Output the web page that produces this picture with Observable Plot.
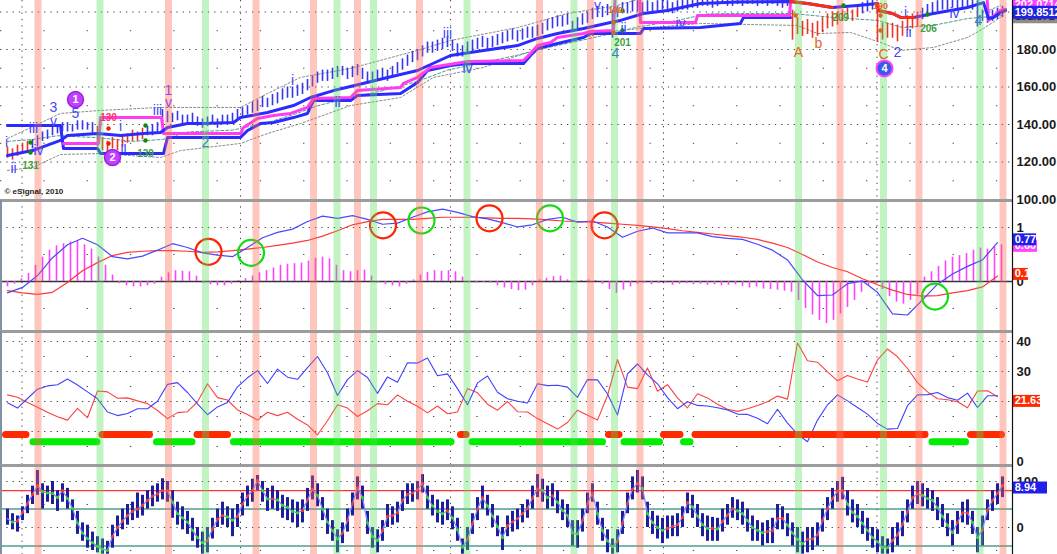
<!DOCTYPE html>
<html>
<head>
<meta charset="utf-8">
<script src="https://cdn.jsdelivr.net/npm/d3@7"></script>
<script src="https://cdn.jsdelivr.net/npm/@observablehq/plot@0.6"></script>
<style>
html,body{margin:0;padding:0;background:#fff;}
#chart{position:relative;width:1057px;height:554px;overflow:hidden;background:#fff;}
#chart > svg{position:absolute;left:0;display:block;}
</style>
</head>
<body>
<div id="chart"></div>
<script>
// ---------------- DATA (bar index i = trading day, 0..199) ----------------
const priceLow = [122,121,123,124,126,127,128,131,132,134,135,136,136,136,137,137,137,135,128,126,
125,127,126,128,130,131,131,132,134,134,135,139,141,141,142,140,140,141,139,138,
139,140,138,140,140,141,142,144,145,146,147,149,149,150,151,153,154,154,155,156,
158,160,162,163,163,164,165,166,164,165,166,164,162,162,163,164,163,165,167,169,
171,173,174,176,178,178,179,180,181,179,176,176,178,179,180,181,180,181,182,183,
184,185,184,185,186,186,187,188,190,191,192,192,193,189,191,193,194,196,197,197,
198,186,197,199,199,200,200,199,200,199,200,201,200,199,200,201,201,202,202,203,
203,202,203,204,203,203,204,203,204,204,203,204,203,204,203,202,203,185,188,187,
188,186,187,189,191,192,193,195,196,195,197,199,200,201,184,185,186,186,184,187,
190,191,192,196,198,199,200,201,201,202,201,202,202,201,192,195,194,195,196,197];
const priceHigh = [128,127,129,130,131,132,134,136,137,139,140,141,141,140,142,142,141,141,139,133,
131,133,132,134,135,137,136,138,139,140,141,148,147,146,147,145,145,146,144,143,
144,145,143,145,145,146,148,149,150,152,153,155,154,156,157,159,160,160,161,162,
164,166,168,169,169,170,171,171,170,171,172,170,168,168,169,170,169,171,173,175,
177,179,180,182,184,184,185,186,187,185,183,182,184,185,186,187,186,187,188,189,
190,191,190,191,192,192,193,194,196,197,198,198,199,195,197,199,200,202,203,203,
204,201,203,205,205,206,206,205,206,205,206,207,206,205,206,207,207,208,208,209,
209,208,209,210,209,209,210,209,210,210,209,210,209,210,209,208,209,201,197,195,
196,194,195,197,199,200,200,201,202,201,203,205,206,207,200,194,194,194,193,195,
198,199,200,202,204,205,206,207,207,208,207,208,208,207,206,201,200,201,202,203];
const redBarSpans = [[0,4],[18,27],[157,170],[174,182]];

// [bar index, price]
const maLine = [[0,123.5],[5,126.1],[10.6,131.5],[12,134.1],[18,135.2],[22.6,134.1],[27.2,135.2],[30.6,135.7],[32,138.4],[36,140.5],[39.2,140.5],[45.2,141.1],[46.6,143.7],[52,146.4],[57.2,150.1],[60.6,154.4],[65.2,158.1],[68.6,160.3],[75.2,164.5],[82,168.8],[88.6,176.8],[95.2,179.5],[102,182.1],[106,185.9],[110,188.5],[115.2,191.2],[120.6,194.4],[122.6,195.5],[127.2,199.2],[132,200.8],[138.6,204.5],[146,205.3],[156.6,205.6],[157,205.5],[160,204.5],[165,202.4],[170,203.5],[174,204.5],[174.1,200.8],[177,199.2],[178.6,197.1],[181.2,197.1],[185.2,199.2],[192,202.4],[195.2,205],[196.2,196.5],[197.2,197.1],[198.6,199.7],[199.6,200.8]];
const maRedSpans = [[156.6,166],[174,181.2]];
const magentaStop = [[11.2,129.9],[18.2,129.9],[18.6,143.7],[30.8,143.7],[31.2,135.2],[46.6,135.2],[47.2,138.4],[50,143.2],[53.2,144.8],[56.6,145.9],[60,149.1],[61.2,153.9],[68.6,154.4],[70,158.1],[78.6,159.7],[79.2,161.9],[82,165.1],[84.6,170.4],[92,173.6],[103.2,174.1],[104.6,177.9],[106,182.1],[108.6,183.7],[110,186.4],[115.2,188.5],[116.6,189.6],[121.2,190.1],[121.6,212],[126.4,212],[126.6,194.4],[137.6,194.4],[138,198.1],[156.4,198.1],[156.8,212],[195.8,212],[196.2,195.5],[198.6,200.8],[199.6,201.5]];
const lowerStop = [[0,139.5],[10.6,139.5],[11.2,127.2],[18,127.2],[18.6,124.5],[31.2,124.5],[32,133.1],[46.6,133.1],[48,136.8],[50.6,140.5],[53.2,141.1],[57.2,143.7],[60,145.9],[61.2,152.8],[68.6,152.8],[70,155.5],[78.6,156.5],[82,162.4],[84,168.8],[88.6,171.5],[92,172.5],[103.2,172.5],[104.6,176.8],[106,180.5],[110,183.2],[115.2,186.4],[116.6,188.5],[126.6,188.5],[127.2,191.2],[138.6,191.7],[146.6,193.9],[147.2,197.1],[156.6,197.1]];
const upperEnvelope = [[0,132.5],[10.6,145.9],[18.6,147.5],[30.6,149.1],[46.6,149.1],[52,156.5],[58.6,165.1],[68.6,169.9],[82,179.5],[88.6,184.8],[102,191.7],[112,199.2],[122,203.5],[128.6,208.8],[140,212],[190,212],[194,206.5],[196.2,200.8],[198.6,203.5]];
const midEnvelope = [[0,131],[5,132],[10,134],[18,133],[25,131],[31,132],[36,136],[45,137],[52,141],[58,146],[62,150],[68,154],[75,158],[82,163],[88,169],[95,173],[102,177],[108,181],[115,185],[120,188],[126,192],[133,195],[140,199],[146,199.2],[157,199.2],[165,197.1],[174,195.5],[179,191.7],[185,192.8],[192,196.5],[199,198.1]];
const lowerEnvelope = [[0,115.5],[5,117.1],[10.6,124],[18.6,124.5],[30.6,122.4],[34.6,126.1],[46.6,129.9],[52,135.2],[58.6,140.5],[68.6,150.1],[78.6,154.4],[85.2,165.1],[95.2,170.4],[105.2,179.5],[112,184.8],[122,190.1],[138.6,193.9],[158,192.8],[162,188.5],[168.6,189.1],[175.2,183.2],[178.6,179.5],[185.2,181.1],[192,186.4],[195.2,191.2],[198.6,197.1]];

// signal bands (bar index)
const bandsGreen = [18.5,39.6,65.9,73.2,91.9,113.3,121.4,158.2,175.2,194.5];
const bandsRed = [6.1,32.2,49.7,61.2,70,82.4,106.4,116.6,126.5,166.5,182.3,199.1];
const timeGrid = [2.9,46.6,88.6,131.2,173.9];

// wave labels [bar index, price, text]
const labelsBlue = [[-0.2,130.4,"i"],[1.2,116.5,"ii"],[5.2,137.9,"iii"],[6.2,126.1,"iv"],[9.2,148.8,"3"],[9.2,141.4,"v"],[13.6,145.9,"5"],[22.6,138.9,"i"],[23.2,127.7,"ii"],[30,147.5,"iii"],[57,163.5,"i"],[66,151.7,"ii"],[88,188.5,"iii"],[92,169.9,"iv"],[118,203.2,"v"],[123.2,191.2,"ii"],[134.6,193.9,"iv"],[178,178.4,"2"],[179.6,199.7,"i"],[180.2,189.1,"ii"],[189.4,199.2,"iv"]];
const labelsTeal = [[39.6,130.4,"2"],[121.6,177.9,"4"],[194.2,195.5,"4"]];
const labelsPurple = [[32.2,158.2,"1"],[32.2,151.6,"v"]];
const labelsOrange = [[158.2,178.4,"A"],[162.2,183.2,"b"],[175.2,177.3,"C"]];
const labelsOrangeSmall = [[121.6,200.8,"190"],[174.6,203.2,"190"]];
const labelsGreen = [[4.6,118.1,"131"],[27.6,124.5,"139"],[123,183.7,"201"],[166.6,197.1,"209"],[184.2,191.2,"206"]];
const labelsPink = [[20.2,143.7,"130"]];
const circledPurple = [[13.6,153.3,"1"],[21,122.4,"2"]];
const circledBlue = [[175.4,169.9,"4"]];
const dotsGreen = [[4.6,130.4],[4.6,125.1],[27.6,139.5],[27.6,131.5],[123,200.8],[123,190.1],[167.2,203.5],[184,198.7]];
const dotsRed = [[20.2,137.9],[20.2,129.9]];
const dotsOrange = [[121.2,194.4],[121.2,189.1],[157.6,198.1],[174.6,198.1],[174.6,190.1]];

// MACD (every 3 bars), histogram (every 1.4 bars)
const macdLine = [-0.21,-0.11,0.11,0.44,0.68,0.80,0.68,0.46,0.42,0.47,
0.58,0.70,0.63,0.53,0.49,0.46,0.63,0.81,0.91,0.97,
1.11,1.21,1.17,1.22,1.15,1.06,1.08,1.19,1.29,1.34,
1.28,1.20,1.16,1.09,1.01,1.05,1.15,1.19,1.10,1.12,
1.01,0.82,0.93,0.99,0.90,0.90,0.90,0.83,0.80,0.78,
0.69,0.58,0.40,0.03,-0.26,-0.25,-0.04,0.01,-0.20,-0.60,
-0.62,-0.34,-0.05,0.14,0.28,0.40,0.72];
const macdSignal = [-0.17,-0.21,-0.24,-0.2,-0.02,0.2,0.35,0.48,0.54,0.56,
0.57,0.57,0.56,0.54,0.55,0.57,0.6,0.63,0.67,0.71,
0.76,0.84,0.94,1.05,1.11,1.15,1.15,1.15,1.17,1.19,
1.19,1.19,1.18,1.17,1.17,1.16,1.14,1.12,1.11,1.1,
1.08,1.06,1.04,1.01,0.98,0.94,0.91,0.88,0.85,0.82,
0.78,0.71,0.63,0.5,0.36,0.26,0.18,0.05,-0.06,-0.16,
-0.24,-0.27,-0.26,-0.21,-0.17,-0.1,0.1];
const macdHist = [-0.1,-0.05,0.05,0.15,0.3,0.45,0.58,0.66,0.7,0.73,
0.75,0.68,0.6,0.45,0.3,0.12,-0.04,-0.08,-0.1,-0.1,
-0.08,-0.05,0.08,0.16,0.2,0.19,0.18,0.1,-0.04,-0.06,
-0.08,-0.08,-0.05,0.02,0.05,0.1,0.16,0.2,0.25,0.3,
0.32,0.33,0.34,0.38,0.43,0.45,0.42,0.3,0.2,0.18,
0.2,0.21,0.1,-0.03,-0.06,-0.08,-0.1,-0.05,0.03,0.12,
0.17,0.2,0.19,0.2,0.18,0.08,-0.02,-0.03,-0.02,-0.03,
-0.08,-0.12,-0.15,-0.17,-0.16,-0.08,0.03,0.06,0.09,0.1,
0.03,-0.02,0.02,0.03,0.02,-0.05,-0.15,-0.22,-0.16,-0.1,
-0.05,-0.03,-0.06,-0.04,-0.03,-0.07,-0.05,-0.04,-0.06,-0.05,
-0.07,-0.06,-0.08,-0.07,-0.06,-0.09,-0.12,-0.1,-0.14,-0.15,
-0.16,-0.18,-0.2,-0.35,-0.5,-0.62,-0.72,-0.78,-0.72,-0.6,
-0.48,-0.35,-0.2,-0.08,-0.05,-0.15,-0.28,-0.38,-0.42,-0.35,
-0.25,0.08,0.18,0.28,0.38,0.45,0.48,0.52,0.58,0.62,
0.6,0.64,0.68];
const crossDown = [[40.2,0.55],[75.1,1.04],[96.4,1.17],[119.4,1.04]];
const crossUp = [[48.7,0.53],[82.8,1.13],[108.5,1.17],[185.5,-0.28]];

// DMI (every 2 bars)
const diPlus = [19.6,17.8,21,24.1,25.2,25.6,27.5,25.5,23.2,20.9,
16.5,15.3,16,17.6,17.6,20.1,25.7,26.3,23,19.2,
15.6,18.2,19.7,24.9,27.9,30.3,26,30.8,28.1,27.4,
31.3,35,29.6,22,27.3,30.3,28,22.7,28.2,26.4,
32.9,32.8,34.5,28.6,29.2,24.3,18.9,26.2,28.5,23.1,
20.9,20.1,19.5,25.9,25.3,25.4,24.8,21.4,27.3,27.2,
22.5,15.5,29.2,32.5,28.9,25.9,21.3,17.6,19.9,18.7,
18.5,17.9,17.2,15.8,15.7,14.4,12.6,17.4,12.8,9.1,
6.6,13.8,18.9,22.2,20.2,18,15.8,12.7,10.8,11,
18.6,22.2,22.3,23,21.3,20.4,22.8,18,21.9,21.9];
const diMinus = [22.2,21.4,19.7,18.1,16.4,14.9,13.8,17.7,14.6,23.5,
23.2,21.1,21.2,20.2,19.3,17,14.3,16.3,16.6,19.9,
25.9,21.3,20.5,17.2,15.7,13.8,16.4,15.3,16.4,14.1,
12.2,8.9,13.6,18.9,17.8,15,16.9,19.3,18.9,22.2,
20.1,18.4,16.2,18.5,15.9,16.5,24.3,22.9,19.1,17.1,
20,16.6,16.5,14.3,12.6,10.8,13,17.1,15.4,13.8,
22,34,24.8,24.3,31.2,23.4,25.6,21.2,17.9,22.6,
21.2,19.1,17.4,16.7,17.6,18.7,19.9,21.8,20.8,39.5,
33.6,33.1,29.9,26.9,28.7,27.5,26.5,33.9,37.5,34.9,
31,26.3,23.2,20.9,20.6,19.9,17.9,23.5,23.6,21.6];
const trendRed = [[-0.3,3.8],[19,28.5],[38,44.1],[90.7,91.8],[120.3,122.4],[131.3,134.6],[137.6,183.6],[192.7,198.9]];
const trendGreen = [[5.2,18],[29.9,37],[45.3,88.8],[93,119.1],[123.4,130.5],[135.3,136.6],[185,191.7]];

// Oscillator (every bar)
const stochLine = [19,12,14,33,52,72,91,78,75,74,65,80,63,41,10,-12,-24,-33,-41,-47,-50,-19,0,14,26,35,40,48,59,68,73,80,80,55,30,
21,
12,-6,-22,-33,-29,-3,18,26,23,16,24,51,68,80,102,80,62,62,60,48,44,35,32,37,60,83,70,40,12,-7,-25,-12,15,52,87,65,10,-20,-28,-7,24,26,32,59,72,75,82,96,65,47,35,30,36,21,-5,-43,-26,8,40,65,47,25,2,-22,4,12,19,30,41,
64,84,81,65,69,55,37,26,-12,-14,15,52,74,30,-7,-29,-42,-30,9,52,83,96,85,30,11,0,-6,-2,2,6,22,54,45,25,6,-2,
-2,
-3,13,27,41,36,30,15,0,-6,-11,-9,-7,19,20,5,-12,-26,-35,-26,-25,-16,15,41,63,79,80,51,33,24,9,-6,-22,-31,-43,-44,-28,-16,7,34,65,73,70,63,59,43,24,5,-11,11,32,32,11,-22,-5,38,59,74,91];
const stochLow = [5,-5,-10,15,30,50,70,40,55,50,35,55,40,15,-15,-30,-45,-50,-55,-58,-58,-45,-20,-5,5,15,20,25,40,45,55,60,55,20,5,
-5,
-15,-30,-45,-58,-55,-25,0,5,0,-20,0,25,45,55,80,55,35,40,35,20,15,10,0,10,35,60,45,15,-15,-30,-55,-35,-10,25,60,40,-15,-45,-55,-30,0,5,10,35,50,55,60,75,40,25,10,5,15,-5,-30,-58,-50,-15,15,40,25,0,-20,-50,-20,-10,-5,10,20,
40,65,55,40,45,30,15,0,-40,-45,-10,30,55,5,-30,-55,-58,-55,-15,30,60,75,60,0,-15,-25,-35,-25,-20,-20,0,30,20,0,-20,-30,
-30,
-30,-10,5,20,15,5,-10,-30,-30,-40,-35,-35,-5,-5,-20,-40,-55,-58,-55,-50,-40,-10,15,40,55,60,25,10,0,-15,-30,-45,-55,-58,-58,-55,-40,-20,10,40,50,45,40,35,15,0,-20,-40,-15,10,5,-15,-55,-40,15,35,50,65];
const stochHigh = [40,30,25,45,70,90,124,95,90,100,80,95,85,60,35,10,5,-10,-20,-25,-30,5,25,40,50,55,75,70,80,90,95,106,100,80,55,
45,
35,20,0,-10,0,20,40,55,45,40,50,75,90,105,113,100,85,90,80,70,65,60,55,60,85,112,95,65,40,15,-5,10,40,75,110,90,35,0,-5,15,50,45,55,80,95,95,100,115,90,70,60,55,60,45,20,-25,0,30,65,90,70,50,25,0,25,35,40,50,60,
90,115,105,90,95,80,60,50,15,15,40,75,95,55,20,-5,-25,-5,35,75,110,124,110,55,35,25,20,25,25,30,45,75,70,50,30,25,
22,
20,40,50,65,60,55,40,25,15,10,15,20,50,45,30,10,0,-10,0,0,10,40,65,85,100,109,80,60,50,35,20,0,-5,-20,-25,0,10,35,60,90,100,95,85,80,65,50,30,15,35,55,60,35,0,25,60,80,95,110];

// ---------------- RENDERING ----------------
const FONT = "Arial, 'Liberation Sans', sans-serif";
const X_DOMAIN = [-1.4, 201];
const P = d => d[0], V = d => d[1], T = d => d[2];

function bandMarks() {
  return [
    Plot.ruleX(bandsGreen, {stroke: "#55dd55", strokeOpacity: 0.36, strokeWidth: 7}),
    Plot.ruleX(bandsRed, {stroke: "#ff6a55", strokeOpacity: 0.38, strokeWidth: 7})
  ];
}
function gridMarks(major, minor) {
  return [
    Plot.ruleX(timeGrid, {stroke: "#444", strokeDasharray: "1.3,5", strokeWidth: 1}),
    Plot.ruleY(major, {stroke: "#444", strokeDasharray: "1.3,5", strokeWidth: 1}),
    Plot.ruleY(minor, {stroke: "#444", strokeDasharray: "1.3,42", strokeWidth: 1})
  ];
}
function tag(value, label, bg, x2, fg = "#fff", h = 12) {
  return [
    Plot.ruleY([value], {x1: 201.15, x2, stroke: bg, strokeWidth: h}),
    Plot.text([value], {x: 201.45, y: d => d, text: () => label, textAnchor: "start", fill: fg, fontSize: 11, fontWeight: "bold"})
  ];
}
function panel(top, height, yDomain, ticks, fmt, marks, sep) {
  const svg = Plot.plot({
    width: 1057, height,
    marginLeft: 0, marginRight: 45, marginTop: 0, marginBottom: 0,
    x: {domain: X_DOMAIN, axis: null},
    y: {domain: yDomain, axis: "right", ticks, tickFormat: fmt, tickSize: 0, tickPadding: 4, label: null},
    style: {background: "transparent", overflow: "visible", fontFamily: FONT, fontSize: "13px", fontWeight: "bold", color: "#1a1a1a"},
    marks: [
      ...marks,
      sep ? Plot.ruleY([yDomain[1]], {stroke: "#9c9c9c", strokeWidth: 3}) : null,
      sep ? Plot.ruleX([X_DOMAIN[0]], {stroke: "#8191a3", strokeWidth: 3}) : null,
      Plot.ruleX([X_DOMAIN[1]], {stroke: "#111", strokeWidth: 1.2})
    ]
  });
  svg.style.top = top + "px";
  document.getElementById("chart").appendChild(svg);
}

// ---- price panel ----
const priceBars = priceLow.map((lo, i) => ({i, lo, hi: priceHigh[i]}));
const isRedBar = i => redBarSpans.some(([a, b]) => i >= a && i <= b);
const txt = (data, fill, size, weight = "normal") =>
  Plot.text(data, {x: P, y: V, text: T, fill, fontSize: size, fontWeight: weight, fontFamily: FONT});

panel(0, 200, [99.47, 206.13], [180, 160, 140, 120, 100], d3.format(".2f"), [
  ...gridMarks([200, 180, 160, 140, 120], [190, 170, 150, 130, 110]),
  Plot.line(upperEnvelope, {x: P, y: V, stroke: "#8a8a8a", strokeDasharray: "2,2", strokeWidth: 1, clip: true}),
  Plot.line(lowerEnvelope, {x: P, y: V, stroke: "#8a8a8a", strokeDasharray: "2,2", strokeWidth: 1, clip: true}),
  Plot.line(midEnvelope, {x: P, y: V, stroke: "#4e9d90", strokeDasharray: "3,2", strokeWidth: 1, clip: true}),
  Plot.ruleX(priceBars, {x: "i", y1: "lo", y2: "hi", stroke: d => isRedBar(d.i) ? "#ee3322" : "#3636f0", strokeWidth: 1.6, clip: true}),
  Plot.line(lowerStop, {x: P, y: V, stroke: "#2b2bff", strokeWidth: 3, clip: true}),
  Plot.line(magentaStop, {x: P, y: V, stroke: "#ff3cf0", strokeWidth: 3, clip: true}),
  Plot.line(maLine, {x: P, y: V, stroke: "#2b2bff", strokeWidth: 3, clip: true}),
  ...maRedSpans.map(([a, b]) => Plot.line(maLine.filter(d => d[0] >= a && d[0] <= b), {x: P, y: V, stroke: "#ff2a10", strokeWidth: 3, clip: true})),
  ...bandMarks(),
  Plot.dot(dotsGreen, {x: P, y: V, r: 2.2, fill: "#118811"}),
  Plot.dot(dotsRed, {x: P, y: V, r: 2.2, fill: "#ee2200"}),
  Plot.dot(dotsOrange, {x: P, y: V, r: 2.2, fill: "#dd6622"}),
  txt(labelsBlue, "#4646ff", 14),
  txt(labelsTeal, "#3a7fc0", 14),
  txt(labelsPurple, "#a040e0", 14),
  txt(labelsOrange, "#e8641e", 14),
  txt(labelsOrangeSmall, "#e8641e", 9, "bold"),
  txt(labelsGreen, "#3f9f3f", 10, "bold"),
  txt(labelsPink, "#ff3366", 10, "bold"),
  Plot.dot(circledPurple, {x: P, y: V, r: 8, fill: "#c040ff", stroke: "#a020e0"}),
  txt(circledPurple, "#fff", 11, "bold"),
  Plot.dot(circledBlue, {x: P, y: V, r: 8, fill: "#3a5ae8", stroke: "#ff40ff", strokeWidth: 2}),
  txt(circledBlue, "#fff", 11, "bold"),
  Plot.text(["© eSignal, 2010"], {frameAnchor: "bottom-left", dx: 4, dy: -7, text: d => d, fontSize: 8, fontWeight: "bold", fill: "#222", textAnchor: "start"}),
  ...tag(203.9, "202.0714", "#ff40ff", 210.2, "#fff", 12),
  ...tag(197.4, "191.8714", "#8c8c8c", 210.2, "#333", 13),
  ...tag(199.85, "199.8512", "#2222e6", 210.2, "#fff", 13)
], false);

// ---- MACD panel ----
panel(200, 131, [-0.926, 1.5], [1, 0], d => String(d), [
  ...gridMarks([1], [0.5, -0.5]),
  Plot.ruleY([0], {stroke: "#333", strokeWidth: 1.3}),
  Plot.ruleX(macdHist.map((v, k) => ({x: 1.4 * k, v})), {x: "x", y1: 0, y2: "v", stroke: "#ff40ff", strokeWidth: 1.6}),
  Plot.line(macdSignal.map((v, m) => [3 * m, v]), {x: P, y: V, stroke: "#ff3838", strokeWidth: 1.2}),
  Plot.line(macdLine.map((v, m) => [3 * m, v]), {x: P, y: V, stroke: "#4848ff", strokeWidth: 1.2}),
  Plot.dot(crossDown, {x: P, y: V, r: 13, stroke: "#ff2200", strokeWidth: 2.2, fill: "none"}),
  Plot.dot(crossUp, {x: P, y: V, r: 13, stroke: "#11dd11", strokeWidth: 2.2, fill: "none"}),
  ...bandMarks(),
  ...tag(0.66, "0.60", "#ff44ff", 206),
  ...tag(0.78, "0.77", "#2020e8", 205.8),
  ...tag(0.14, "0.1", "#ff2a00", 204.2)
], true);

// ---- DMI panel ----
panel(331, 134, [-1.33, 43.33], [40, 30, 20, 0], d => String(d), [
  ...gridMarks([40, 30, 20, 10], [35, 25, 15, 5]),
  Plot.line(diMinus.map((v, m) => [2 * m, v]), {x: P, y: V, stroke: "#ff4040", strokeWidth: 1.1}),
  Plot.line(diPlus.map((v, m) => [2 * m, v]), {x: P, y: V, stroke: "#4040ff", strokeWidth: 1.1}),
  Plot.ruleY(trendRed, {y: 9, x1: P, x2: V, stroke: "#ff2a00", strokeWidth: 7, strokeLinecap: "round"}),
  Plot.ruleY(trendGreen, {y: 6.6, x1: P, x2: V, stroke: "#00ee00", strokeWidth: 7, strokeLinecap: "round"}),
  ...bandMarks(),
  ...tag(20.2, "21.63", "#ff2a00", 206.6)
], true);

// ---- oscillator panel ----
const stochBars = stochLow.map((lo, i) => ({i, lo, hi: stochHigh[i]}));
const stochPts = stochLine.map((v, i) => [i, v]);
panel(465, 89, [-58.7, 134.8], [100, 0], d => String(d), [
  ...gridMarks([100, 0], [50, -50]),
  Plot.ruleY([80], {stroke: "#ff3030", strokeWidth: 1.3}),
  Plot.ruleY([40, -40], {stroke: "#4f9c8f", strokeWidth: 1.5}),
  Plot.ruleX(stochBars, {x: "i", y1: "lo", y2: "hi", stroke: "#1e1e9c", strokeWidth: 3, clip: true}),
  Plot.line(stochPts, {x: P, y: V, stroke: "#8a8aff", strokeWidth: 1.3, clip: true}),
  Plot.dot(stochPts.slice(1), {x: P, y: V, r: 1.6, fill: d => d[1] >= stochLine[d[0] - 1] ? "#ff3322" : "#22dd22", clip: true}),
  ...bandMarks(),
  ...tag(87, "8.94", "#2020e8", 208)
], true);
</script>
</body>
</html>
